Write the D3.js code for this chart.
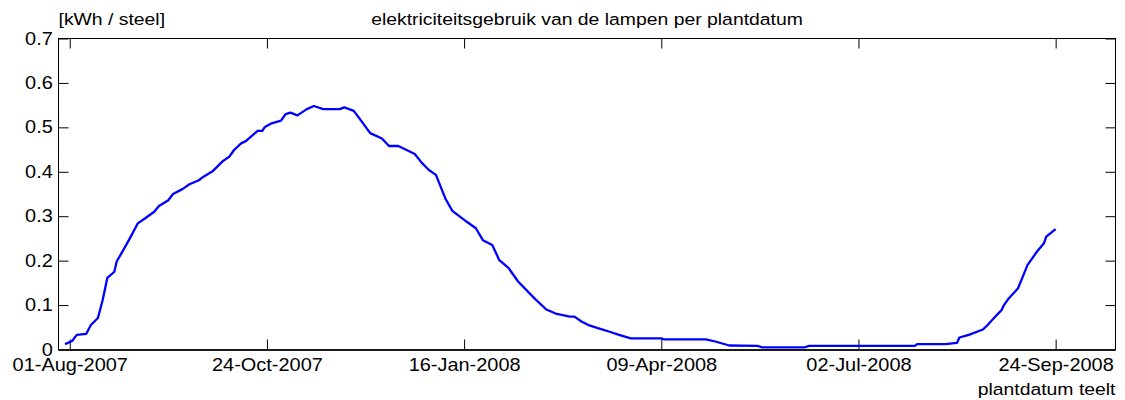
<!DOCTYPE html>
<html>
<head>
<meta charset="utf-8">
<script src="https://cdn.jsdelivr.net/npm/d3@7"></script>
<style>
    body { margin: 0; background: #fff; }
    #chart-area { width: 1125px; height: 400px; }
    text { font-family: "Liberation Sans", Arial, sans-serif; fill: #000; }
</style>
</head>
<body>
<div id="chart-area"></div>
<script>
/*
Electricity use of the lamps per planting date (kWh per stem)
Values
*/

let plantDates = ["2007-07-30", "2007-08-02", "2007-08-04", "2007-08-08", "2007-08-10", "2007-08-13", "2007-08-15",
    "2007-08-17", "2007-08-20", "2007-08-21", "2007-08-25", "2007-08-27", "2007-08-30", "2007-09-02", "2007-09-06",
    "2007-09-08", "2007-09-12", "2007-09-14", "2007-09-18", "2007-09-21", "2007-09-25", "2007-09-27", "2007-10-01",
    "2007-10-05", "2007-10-08", "2007-10-10", "2007-10-13", "2007-10-15", "2007-10-20", "2007-10-22", "2007-10-23",
    "2007-10-26", "2007-10-30", "2007-11-01", "2007-11-03", "2007-11-06", "2007-11-10", "2007-11-13", "2007-11-17",
    "2007-11-24", "2007-11-26", "2007-11-30", "2007-12-02", "2007-12-07", "2007-12-12", "2007-12-15", "2007-12-19",
    "2007-12-26", "2007-12-29", "2008-01-01", "2008-01-04", "2008-01-08", "2008-01-11", "2008-01-17", "2008-01-21",
    "2008-01-24", "2008-01-28", "2008-01-31", "2008-02-04", "2008-02-08", "2008-02-15", "2008-02-20", "2008-02-24",
    "2008-03-01", "2008-03-03", "2008-03-06", "2008-03-09", "2008-03-13", "2008-03-18", "2008-03-22", "2008-03-27",
    "2008-04-09", "2008-04-10", "2008-04-28", "2008-05-02", "2008-05-08", "2008-05-20", "2008-05-22", "2008-06-09",
    "2008-06-11", "2008-07-26", "2008-07-27", "2008-08-08", "2008-08-13", "2008-08-14", "2008-08-18", "2008-08-24",
    "2008-08-26", "2008-08-30", "2008-09-01", "2008-09-02", "2008-09-04", "2008-09-08", "2008-09-12", "2008-09-16",
    "2008-09-19", "2008-09-20", "2008-09-24"];

let energyValues = [0.012, 0.019, 0.033, 0.035, 0.055, 0.071, 0.111,
    0.161, 0.175, 0.198, 0.235, 0.254, 0.284, 0.295, 0.310,
    0.323, 0.336, 0.350, 0.361, 0.372, 0.381, 0.389, 0.402,
    0.423, 0.434, 0.449, 0.464, 0.469, 0.492, 0.492, 0.500,
    0.509, 0.515, 0.530, 0.533, 0.527, 0.541, 0.548, 0.541,
    0.541, 0.545, 0.537, 0.523, 0.487, 0.475, 0.458, 0.458,
    0.440, 0.420, 0.404, 0.393, 0.340, 0.312, 0.288, 0.273,
    0.246, 0.235, 0.201, 0.183, 0.153, 0.115, 0.090, 0.081,
    0.074, 0.074, 0.063, 0.055, 0.048, 0.040, 0.033, 0.025,
    0.025, 0.023, 0.023, 0.018, 0.009, 0.008, 0.005, 0.005,
    0.008, 0.008, 0.012, 0.012, 0.015, 0.027, 0.033, 0.045,
    0.055, 0.078, 0.089, 0.100, 0.115, 0.138, 0.190, 0.220,
    0.239, 0.254, 0.271];

let xDomain = ["2007-07-27T05:00", "2008-10-19T12:00"];
let xTickDates = ["2007-08-01", "2007-10-24", "2008-01-16", "2008-04-09", "2008-07-02", "2008-09-24"];
let xTickLabels = ["01-Aug-2007", "24-Oct-2007", "16-Jan-2008", "09-Apr-2008", "02-Jul-2008", "24-Sep-2008"];
let yTicks = [0, 0.1, 0.2, 0.3, 0.4, 0.5, 0.6, 0.7];
let yTickLabels = ["0", "0.1", "0.2", "0.3", "0.4", "0.5", "0.6", "0.7"];

let chartTitle = "elektriciteitsgebruik van de lampen per plantdatum";
let yUnitLabel = "[kWh / steel]";
let xAxisLabel = "plantdatum teelt";

class LampEnergyVis {

    constructor(parentElement, dates, values) {
        this.parentElement = parentElement;
        this.dates = dates;
        this.values = values;

        this.initVis()
    }

    initVis() {
        let vis = this;

        vis.margin = {top: 38.5, right: 9.5, bottom: 50.5, left: 58.5};
        vis.width = 1125 - vis.margin.left - vis.margin.right;
        vis.height = 400 - vis.margin.top - vis.margin.bottom;

        // the original figure text is a bit stretched sideways
        vis.stretch = 1.14;

        vis.svg = d3.select("#" + vis.parentElement).append("svg")
            .attr("width", 1125)
            .attr("height", 400)
            .append("g")
            .attr("transform", `translate(${vis.margin.left}, ${vis.margin.top})`);

        let parseDay = d3.timeParse("%Y-%m-%d");
        let parseTime = d3.timeParse("%Y-%m-%dT%H:%M");

        vis.x = d3.scaleTime()
            .domain(xDomain.map(parseTime))
            .range([0, vis.width]);

        vis.y = d3.scaleLinear()
            .domain([0, 0.7])
            .range([vis.height, 0]);

        vis.tickDates = xTickDates.map(parseDay);
        vis.parseDay = parseDay;

        // axes, ticks pointing inward like matlab
        vis.xAxis = d3.axisBottom(vis.x)
            .tickValues(vis.tickDates)
            .tickFormat((d, i) => xTickLabels[i])
            .tickSizeInner(-10)
            .tickSizeOuter(0)
            .tickPadding(9);

        vis.xAxisTop = d3.axisTop(vis.x)
            .tickValues(vis.tickDates)
            .tickFormat("")
            .tickSizeInner(-10)
            .tickSizeOuter(0);

        vis.yAxis = d3.axisLeft(vis.y)
            .tickValues(yTicks)
            .tickFormat((d, i) => yTickLabels[i])
            .tickSizeInner(-10)
            .tickSizeOuter(0)
            .tickPadding(5);

        vis.yAxisRight = d3.axisRight(vis.y)
            .tickValues(yTicks)
            .tickFormat("")
            .tickSizeInner(-10)
            .tickSizeOuter(0);

        vis.svg.append("g").attr("class", "x-axis")
            .attr("transform", `translate(0, ${vis.height})`);
        vis.svg.append("g").attr("class", "x-axis-top");
        vis.svg.append("g").attr("class", "y-axis");
        vis.svg.append("g").attr("class", "y-axis-right")
            .attr("transform", `translate(${vis.width}, 0)`);

        // labels
        vis.svg.append("text")
            .attr("transform", `translate(${vis.width / 2}, -14) scale(${vis.stretch}, 1)`)
            .attr("text-anchor", "middle")
            .style("font-size", "17px")
            .text(chartTitle);

        vis.svg.append("text")
            .attr("transform", `translate(0, -14) scale(${vis.stretch}, 1)`)
            .style("font-size", "17px")
            .text(yUnitLabel);

        vis.svg.append("text")
            .attr("transform", `translate(${vis.width}, ${vis.height + 45}) scale(${vis.stretch}, 1)`)
            .attr("text-anchor", "end")
            .style("font-size", "17px")
            .text(xAxisLabel);

        vis.wrangleData()
    }

    wrangleData() {
        let vis = this;

        vis.displayData = vis.dates.map((d, i) => ({date: vis.parseDay(d), value: vis.values[i]}));

        vis.updateVis()
    }

    updateVis() {
        let vis = this;

        vis.svg.select(".x-axis").call(vis.xAxis);
        vis.svg.select(".x-axis-top").call(vis.xAxisTop);
        vis.svg.select(".y-axis").call(vis.yAxis);
        vis.svg.select(".y-axis-right").call(vis.yAxisRight);

        vis.svg.selectAll(".domain").remove();
        vis.svg.selectAll(".tick line").attr("stroke", "#000");
        vis.svg.selectAll(".tick text")
            .style("font-size", "17.5px")
            .style("font-family", "'Liberation Sans', Arial, sans-serif")
            .attr("fill", "#000")
            .attr("transform", `scale(${vis.stretch}, 1)`);

        // box
        vis.svg.append("rect")
            .attr("x", 0)
            .attr("y", 0)
            .attr("width", vis.width)
            .attr("height", vis.height)
            .attr("fill", "none")
            .attr("stroke", "#000")
            .attr("stroke-width", 1);

        vis.svg.append("line")
            .attr("x1", 0)
            .attr("x2", vis.width)
            .attr("y1", vis.height + 0.5)
            .attr("y2", vis.height + 0.5)
            .attr("stroke", "#1a1a1a")
            .attr("stroke-width", 2);

        let line = d3.line()
            .x(d => vis.x(d.date))
            .y(d => vis.y(d.value));

        vis.svg.append("path")
            .datum(vis.displayData)
            .attr("fill", "none")
            .attr("stroke", "#0000ff")
            .attr("stroke-width", 2.3)
            .attr("stroke-linejoin", "round")
            .attr("d", line);
    }
}

new LampEnergyVis("chart-area", plantDates, energyValues);
</script>
</body>
</html>
